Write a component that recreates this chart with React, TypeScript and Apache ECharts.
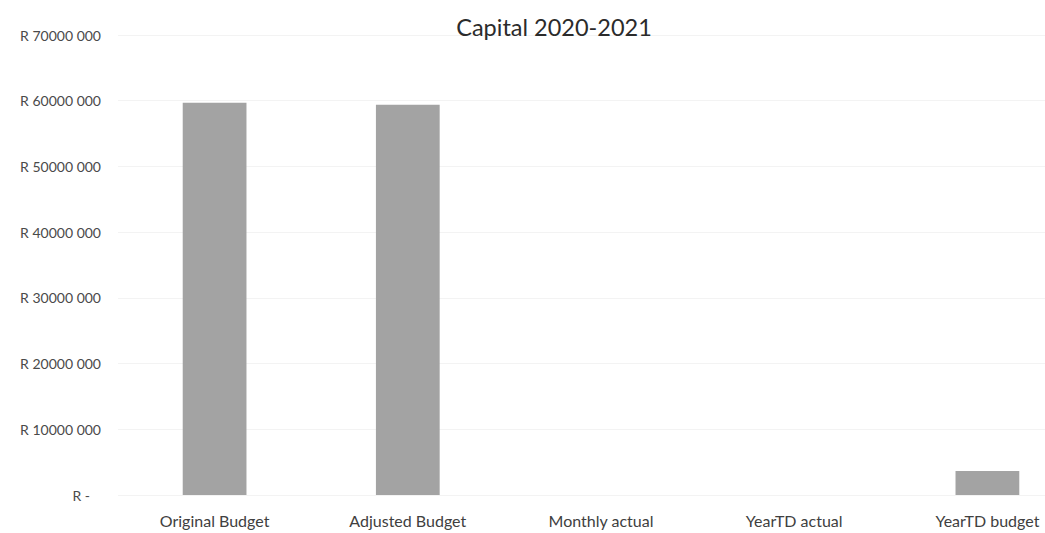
import React, { useEffect, useRef } from "react";
import * as echarts from "echarts";

const categories = ["Original Budget", "Adjusted Budget", "Monthly actual", "YearTD actual", "YearTD budget"];
const values = [59700000, 59400000, 0, 0, 3650000];
const yTicks = [0, 10000000, 20000000, 30000000, 40000000, 50000000, 60000000, 70000000];

function fmt(v: number): string {
  if (v === 0) return "{z|R -}";
  const s = String(Math.round(v));
  return "R " + s.slice(0, s.length - 3) + " " + s.slice(-3);
}

const FONT = "Lato";

export default function App() {
  const ref = useRef<HTMLDivElement>(null);
  useEffect(() => {
    const chart = echarts.init(ref.current!, null, { renderer: "svg" });
    chart.setOption({
      animation: false,
      backgroundColor: "#ffffff",
      title: {
        text: "Capital 2020-2021",
        left: 549,
        textAlign: "center",
        top: 10,
        textStyle: { fontFamily: FONT, fontSize: 23.5, fontWeight: "normal", color: "#2b2b2b" },
      },
      grid: { left: 118, right: 0, top: 35, bottom: 38, containLabel: false },
      xAxis: {
        type: "category",
        data: categories,
        axisLine: { show: false },
        axisTick: { show: false },
        axisLabel: { margin: 17, fontFamily: FONT, fontSize: 16, color: "#404040", interval: 0 },
      },
      yAxis: {
        type: "value",
        min: yTicks[0],
        max: yTicks[yTicks.length - 1],
        interval: 10000000,
        axisLine: { show: false },
        axisTick: { show: false },
        splitLine: { lineStyle: { color: "#f3f3f3", width: 1 } },
        axisLabel: {
          margin: 17,
          fontFamily: FONT,
          fontSize: 14,
          color: "#4a4a4a",
          formatter: (v: number) => fmt(v),
          rich: { z: { fontFamily: FONT, fontSize: 14, color: "#4a4a4a", padding: [0, 11, 0, 0] } },
        },
      },
      series: [
        {
          type: "bar",
          data: values,
          barWidth: "33%",
          itemStyle: { color: "#a3a3a3", borderWidth: 0 },
        },
      ],
    });
    return () => chart.dispose();
  }, []);
  return (
    <div style={{ width: 1045, height: 533, position: "absolute", left: 0, top: 0, overflow: "hidden", background: "#fff" }}>
      <div ref={ref} style={{ width: 1084, height: 533 }} />
    </div>
  );
}
